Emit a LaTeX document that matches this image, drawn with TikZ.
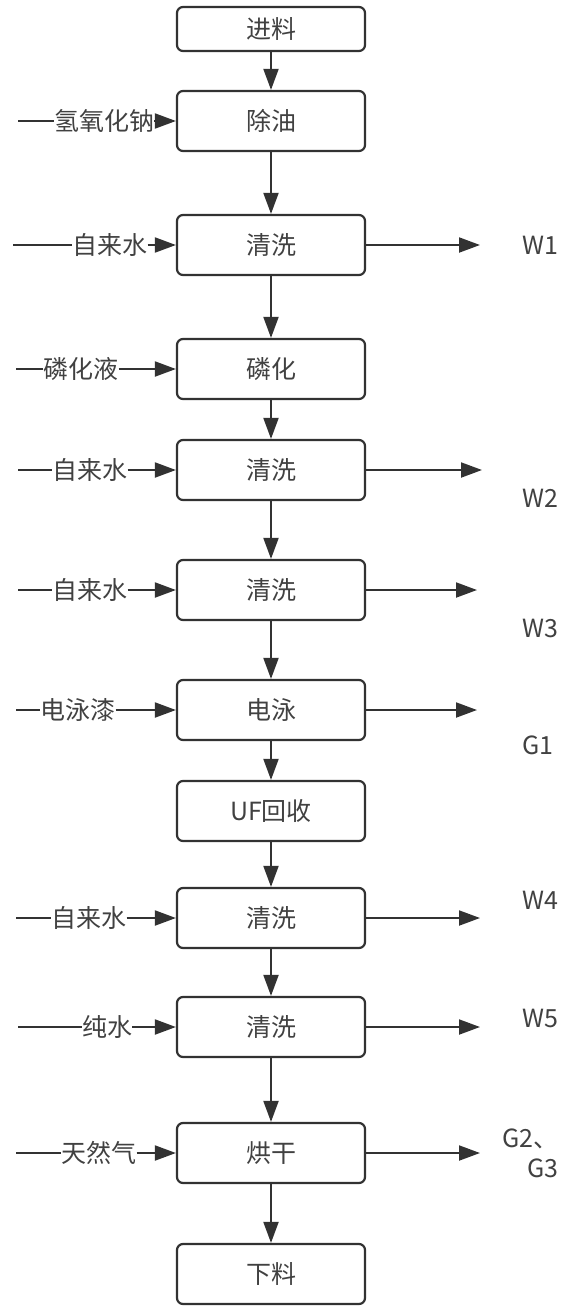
\documentclass[tikz,border=0pt]{standalone}
\usepackage{fontspec}
\setmainfont{Noto Sans CJK SC}
\usetikzlibrary{arrows.meta}
\definecolor{linec}{RGB}{50,50,50}
\definecolor{textc}{RGB}{65,65,65}
\begin{document}
\begin{tikzpicture}[x=1pt,y=-1pt,
  proc/.style={draw=linec, line width=2.2pt, rounded corners=6pt, minimum width=188pt, minimum height=60pt, inner sep=0pt, text=textc, font=\fontsize{25}{28}\selectfont},
  lab/.style={text=textc, inner xsep=0pt, inner ysep=2pt, font=\fontsize{25}{28}\selectfont},
  outlab/.style={text=textc, inner sep=0pt, font=\fontsize{25}{30}\selectfont, align=right},
  flow/.style={draw=linec, line width=2pt, -{Triangle[length=21pt,width=15pt]}},
  plainline/.style={draw=linec, line width=2pt}]
\useasboundingbox (0,0) rectangle (561,1310);

% process boxes
\node[proc, minimum height=44pt] (b1) at (271,29) {进料};
\node[proc] (b2) at (271,121) {除油};
\node[proc] (b3) at (271,245) {清洗};
\node[proc] (b4) at (271,369) {磷化};
\node[proc] (b5) at (271,470) {清洗};
\node[proc] (b6) at (271,590) {清洗};
\node[proc] (b7) at (271,710) {电泳};
\node[proc] (b8) at (271,811) {UF回收};
\node[proc] (b9) at (271,918) {清洗};
\node[proc] (b10) at (271,1027) {清洗};
\node[proc] (b11) at (271,1153) {烘干};
\node[proc] (b12) at (271,1274) {下料};

% main flow
\foreach \a/\b in {b1/b2,b2/b3,b3/b4,b4/b5,b5/b6,b6/b7,b7/b8,b8/b9,b9/b10,b10/b11,b11/b12}
  \draw[flow] (\a) -- (\b);

% inputs
\coordinate (s2) at (18,121);
\node[lab] (l2) at (104,121) {氢氧化钠};
\coordinate (s3) at (13,245);
\node[lab] (l3) at (110,245) {自来水};
\coordinate (s4) at (16,369);
\node[lab] (l4) at (81,369) {磷化液};
\coordinate (s5) at (18,470);
\node[lab] (l5) at (90,470) {自来水};
\coordinate (s6) at (18,590);
\node[lab] (l6) at (90,590) {自来水};
\coordinate (s7) at (16,710);
\node[lab] (l7) at (78,710) {电泳漆};
\coordinate (s9) at (16,918);
\node[lab] (l9) at (89,918) {自来水};
\coordinate (s10) at (18,1027);
\node[lab] (l10) at (107,1027) {纯水};
\coordinate (s11) at (16,1153);
\node[lab] (l11) at (99,1153) {天然气};

\foreach \i in {2,3,4,5,6,7,9,10,11}{
  \draw[plainline] (s\i) -- (l\i.west);
  \draw[flow] (l\i.east) -- (b\i.west);
}

% outputs
\coordinate (e3) at (480,245);
\coordinate (e5) at (482,470);
\coordinate (e6) at (477,590);
\coordinate (e7) at (477,710);
\coordinate (e9) at (480,918);
\coordinate (e10) at (480,1027);
\coordinate (e11) at (480,1153);
\foreach \i in {3,5,6,7,9,10,11}
  \draw[flow] (b\i.east) -- (e\i);

\node[outlab] (o3) at (540,245) {W1};
\node[outlab] (o5) at (540,498) {W2};
\node[outlab] (o6) at (540,628) {W3};
\node[outlab] (o7) at (538,745) {G1};
\node[outlab] (o9) at (540,900) {W4};
\node[outlab] (o10) at (540,1018) {W5};
\node[outlab, anchor=east] (o11) at (559,1153) {G2、\\G3};
\end{tikzpicture}
\end{document}
